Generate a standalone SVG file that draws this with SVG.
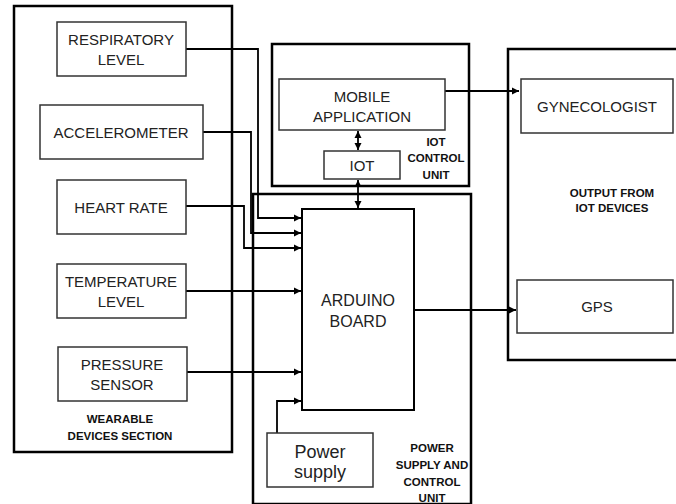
<svg xmlns="http://www.w3.org/2000/svg" width="676" height="504" viewBox="0 0 676 504">
<style>
.sec{fill:none;stroke:#000;stroke-width:2.5}
.box{fill:#fff;stroke:#333;stroke-width:1.5}
.t{font-family:"Liberation Sans",Arial,sans-serif;font-size:15px;fill:#222;text-anchor:middle}
.b{font-family:"Liberation Sans",Arial,sans-serif;font-size:11.5px;font-weight:bold;fill:#111;text-anchor:middle}
.c{fill:none;stroke:#000;stroke-width:1.8}
</style>
<defs>
<marker id="ah" viewBox="0 0 10 10" refX="10" refY="5" markerWidth="4" markerHeight="4" orient="auto-start-reverse"><path d="M0,0L10,5L0,10z" fill="#000"/></marker>
</defs>
<rect width="676" height="504" fill="#fff"/>
<g id="wearable-section"><rect class="sec" x="14" y="6" width="218" height="446"/>
<text class="b" x="120" y="423">WEARABLE</text><text class="b" x="120" y="440">DEVICES SECTION</text></g>
<g id="power-section"><rect class="sec" x="253" y="194" width="218" height="310"/>
<text class="b" x="432" y="452">POWER</text><text class="b" x="432" y="469">SUPPLY AND</text><text class="b" x="432" y="486">CONTROL</text><text class="b" x="432" y="502">UNIT</text></g>
<g id="iot-section"><rect class="sec" x="272" y="44" width="197" height="142" fill="#fff"/>
<text class="b" x="436" y="146">IOT</text><text class="b" x="436" y="162">CONTROL</text><text class="b" x="436" y="179">UNIT</text></g>
<g id="output-section"><rect class="sec" x="508" y="49" width="172" height="311"/>
<text class="b" x="612" y="197">OUTPUT FROM</text><text class="b" x="612" y="212">IOT DEVICES</text></g>
<g id="connectors">
<polyline class="c" points="186,49 258,49 258,218 301,218" marker-end="url(#ah)"/>
<polyline class="c" points="203,132 251,132 251,233 301,233" marker-end="url(#ah)"/>
<polyline class="c" points="186,206 244,206 244,248 301,248" marker-end="url(#ah)"/>
<polyline class="c" points="186,291 301,291" marker-end="url(#ah)"/>
<polyline class="c" points="187,372 301,372" marker-end="url(#ah)"/>
<polyline class="c" points="277,433 277,401 301,401" marker-end="url(#ah)"/>
<line class="c" x1="358" y1="131" x2="358" y2="150" marker-start="url(#ah)" marker-end="url(#ah)"/>
<line class="c" x1="358" y1="180" x2="358" y2="208" marker-start="url(#ah)" marker-end="url(#ah)"/>
<polyline class="c" points="445,91 519,91" marker-end="url(#ah)"/>
<polyline class="c" points="414,310 516,310" marker-end="url(#ah)"/>
</g>
<g id="respiratory"><rect class="box" x="57" y="22" width="129" height="54"/><text class="t" x="121" y="45">RESPIRATORY</text><text class="t" x="121" y="65">LEVEL</text></g>
<g id="accelerometer"><rect class="box" x="40" y="105" width="163" height="54"/><text class="t" x="121" y="138">ACCELEROMETER</text></g>
<g id="heart-rate"><rect class="box" x="57" y="180" width="129" height="54"/><text class="t" x="121" y="213">HEART RATE</text></g>
<g id="temperature"><rect class="box" x="57" y="264" width="129" height="54"/><text class="t" x="121" y="287">TEMPERATURE</text><text class="t" x="121" y="307">LEVEL</text></g>
<g id="pressure"><rect class="box" x="58" y="347" width="129" height="54"/><text class="t" x="122" y="370">PRESSURE</text><text class="t" x="122" y="390">SENSOR</text></g>
<g id="mobile-app"><rect class="box" x="279" y="79" width="166" height="51"/><text class="t" x="362" y="102">MOBILE</text><text class="t" x="362" y="122">APPLICATION</text></g>
<g id="iot"><rect class="box" x="324" y="151" width="76" height="28"/><text class="t" x="362" y="171">IOT</text></g>
<g id="arduino"><rect x="302" y="209" width="112" height="201" fill="#fff" stroke="#000" stroke-width="2"/><text class="t" x="358" y="306" style="font-size:16px">ARDUINO</text><text class="t" x="358" y="327" style="font-size:16px">BOARD</text></g>
<g id="power-supply"><rect class="box" x="267" y="433" width="106" height="54"/><text class="t" x="320" y="458" style="font-size:18px">Power</text><text class="t" x="320" y="478" style="font-size:18px">supply</text></g>
<g id="gynecologist"><rect class="box" x="521" y="79" width="152" height="54"/><text class="t" x="597" y="112">GYNECOLOGIST</text></g>
<g id="gps"><rect class="box" x="517" y="280" width="156" height="53"/><text class="t" x="597" y="312">GPS</text></g>
</svg>
